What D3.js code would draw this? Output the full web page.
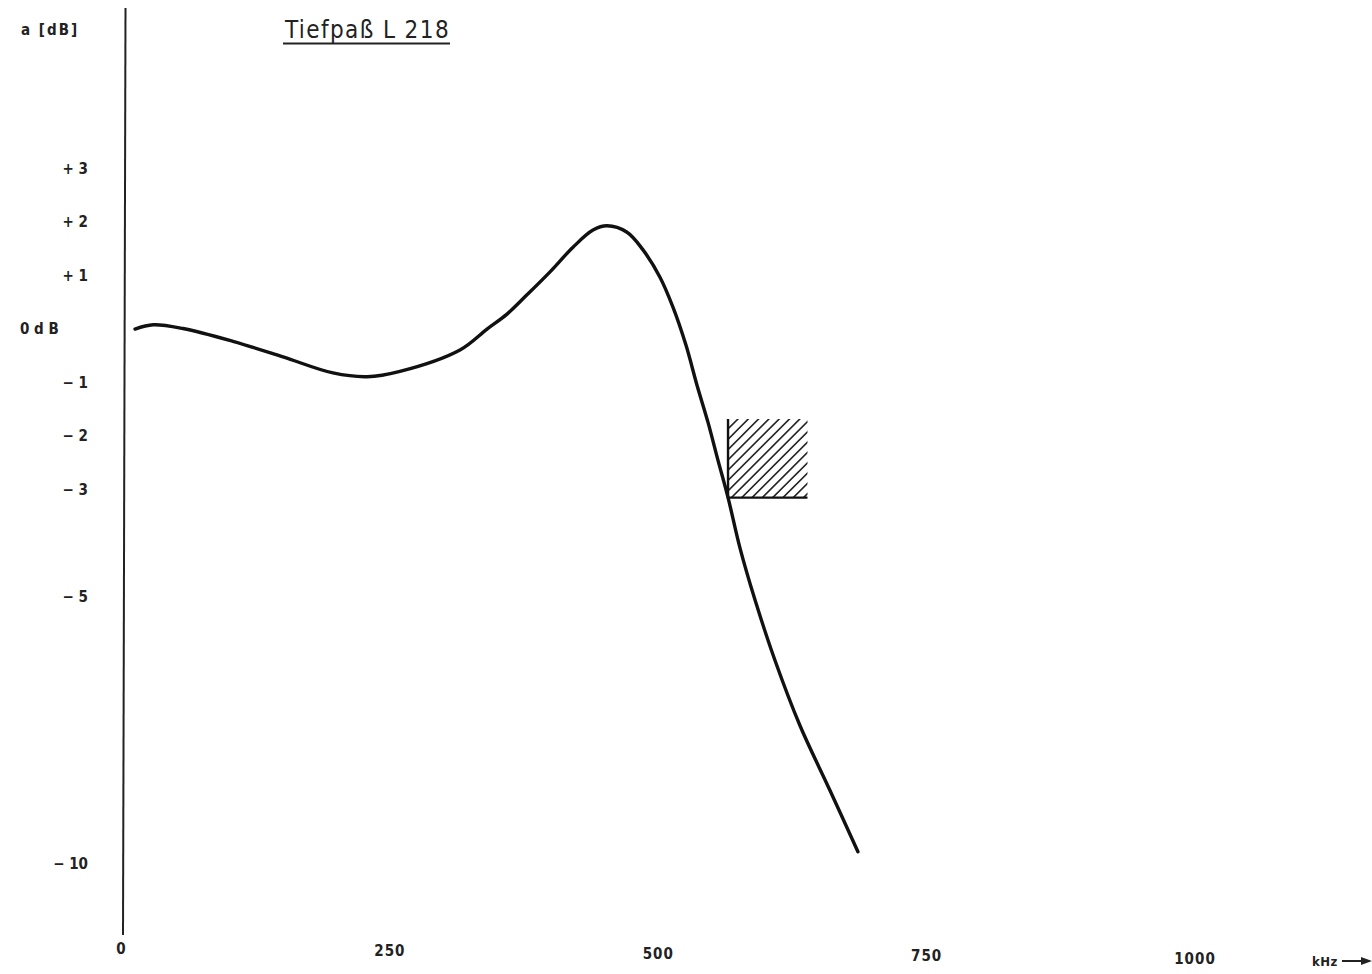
<!DOCTYPE html>
<html><head><meta charset="utf-8">
<script src="https://cdn.jsdelivr.net/npm/d3@7"></script>
<style>
html,body{margin:0;padding:0;background:#fff;}
svg text{font-family:"DejaVu Sans Condensed","DejaVu Sans",sans-serif;fill:#222;}
</style></head>
<body>
<svg id="chart" width="1372" height="974"></svg>
<script>
// ---- data ----
const title = "Tiefpaß L 218";
const yAxisLabel = "a [dB]";
const xAxisLabel = "kHz";
const freqKHz = [12.6, 29.6, 57.3, 103.8, 150.4, 197, 228.7, 259.4, 315.3, 340.5, 359.1, 377.7, 399.2, 420.6, 439.2, 452.3, 470.9, 485.8, 501.6, 513.7, 525.8, 536.1, 546.3, 555.6, 564.9, 576.1, 590.1, 608.7, 632, 659.9, 686];
const attenDB = [-0.02, 0.06, -0.01, -0.25, -0.54, -0.84, -0.91, -0.81, -0.41, -0.02, 0.26, 0.62, 1.05, 1.51, 1.83, 1.91, 1.79, 1.46, 0.95, 0.39, -0.32, -1.07, -1.76, -2.47, -3.16, -4.11, -5.08, -6.21, -7.43, -8.64, -9.79];
const yTicks = [3, 2, 1, 0, -1, -2, -3, -5, -10];
const yTickLabels = ["+ 3", "+ 2", "+ 1", "0 d B", "− 1", "− 2", "− 3", "− 5", "− 10"];
const xTicks = [0, 250, 500, 750, 1000];
const xTickLabels = ["0", "250", "500", "750", "1000"];
const toleranceFreq = [565, 639];   // kHz
const toleranceDB = [-1.7, -3.17];  // dB

// ---- scales ----
const x = d3.scaleLinear().domain([0, 1000]).range([121.5, 1195]);
const y = d3.scaleLinear().domain([0, -10]).range([328, 863]);

const svg = d3.select("#chart");

// vertical axis line (slightly skewed as in the scan)
svg.append("line").attr("x1", 125.5).attr("x2", 123).attr("y1", 8).attr("y2", 935)
  .attr("stroke", "#222").attr("stroke-width", 2);

// y tick labels
svg.append("g").selectAll("text").data(yTicks).join("text")
  .attr("x", d => d === 0 ? 20 : 88)
  .attr("y", d => y(d) + 6)
  .attr("text-anchor", d => d === 0 ? "start" : "end")
  .attr("font-size", 15).attr("font-weight", "bold")
  .text((d, i) => yTickLabels[i]);

// x tick labels
svg.append("g").selectAll("text").data(xTicks).join("text")
  .attr("x", d => x(d))
  .attr("y", d => 954 + (x(d) - 122) * 0.009)
  .attr("text-anchor", "middle")
  .attr("font-size", 15).attr("font-weight", "bold").attr("letter-spacing", 1)
  .text((d, i) => xTickLabels[i]);

// axis titles
svg.append("text").attr("x", 21).attr("y", 35).attr("font-size", 15).attr("font-weight", "bold")
  .attr("letter-spacing", 2).text(yAxisLabel);
svg.append("text").attr("x", 1312).attr("y", 966).attr("font-size", 13).attr("font-weight", "bold")
  .attr("letter-spacing", 0.5).text(xAxisLabel);
svg.append("line").attr("x1", 1342).attr("x2", 1364).attr("y1", 961).attr("y2", 961).attr("stroke", "#222").attr("stroke-width", 2);
svg.append("path").attr("d", "M1372,961 L1361,957 L1361,965 Z").attr("fill", "#222");

// title
svg.append("text").attr("x", 285).attr("y", 38).attr("font-size", 24)
  .attr("font-family", "DejaVu Sans, sans-serif").attr("letter-spacing", 1.4).text(title);
svg.append("line").attr("x1", 283).attr("x2", 450).attr("y1", 43.5).attr("y2", 43.5)
  .attr("stroke", "#222").attr("stroke-width", 2);

// tolerance (hatched) region
const rx0 = x(toleranceFreq[0]), rx1 = x(toleranceFreq[1]);
const ry0 = y(toleranceDB[0]), ry1 = y(toleranceDB[1]);
svg.append("clipPath").attr("id", "hclip").append("rect")
  .attr("x", rx0).attr("y", ry0).attr("width", rx1 - rx0).attr("height", ry1 - ry0);
const hatch = svg.append("g").attr("clip-path", "url(#hclip)");
const h = ry1 - ry0;
const span = (rx1 - rx0) + h;
for (let k = 10; k <= span + 10; k += 10.3) {
  hatch.append("line")
    .attr("x1", rx0 + k - h - 2).attr("y1", ry1 + 2)
    .attr("x2", rx0 + k + 2).attr("y2", ry0 - 2)
    .attr("stroke", "#222").attr("stroke-width", 1.6);
}
svg.append("path")
  .attr("d", `M${rx0},${ry0} L${rx0},${ry1} L${rx1},${ry1}`)
  .attr("fill", "none").attr("stroke", "#111").attr("stroke-width", 2.4);

// response curve
const pts = freqKHz.map((f, i) => [f, attenDB[i]]);
const line = d3.line().x(d => x(d[0])).y(d => y(d[1])).curve(d3.curveCatmullRom.alpha(0.5));
svg.append("path").datum(pts).attr("d", line)
  .attr("fill", "none").attr("stroke", "#111").attr("stroke-width", 3.4)
  .attr("stroke-linecap", "round").attr("stroke-linejoin", "round");
</script>
</body></html>
